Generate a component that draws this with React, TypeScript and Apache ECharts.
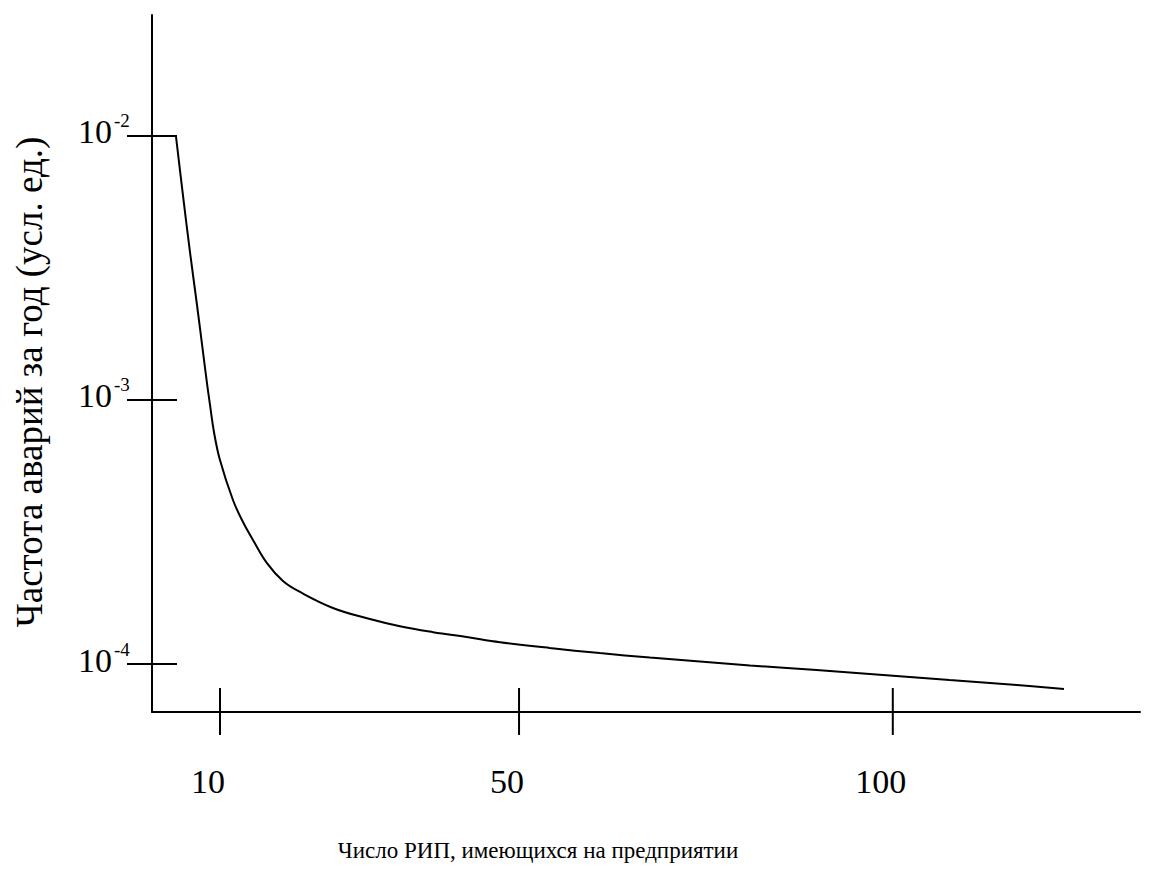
import React, { useEffect, useRef } from "react";
import * as echarts from "echarts";

// Curve: number of РИП (x) vs accident frequency per year (y, log scale)
const xValues = [4.1, 5.04, 5.98, 6.92, 7.72, 8.25, 8.66, 9.19, 9.99, 11.73, 13.07, 14.41, 16.28, 18.42, 20.7, 25.1, 29.66, 34.07, 38.5, 43.0, 47.45, 54.1, 60.8, 67.5, 74.2, 80.9, 89.8, 98.7, 107.6, 116.6, 122.9];
const yValues = [1.0e-2, 5.976e-3, 3.636e-3, 2.29e-3, 1.52e-3, 1.16e-3, 9.575e-4, 7.566e-4, 5.925e-4, 4.18e-4, 3.45e-4, 2.95e-4, 2.41e-4, 2.063e-4, 1.874e-4, 1.63e-4, 1.49e-4, 1.39e-4, 1.32e-4, 1.265e-4, 1.21e-4, 1.15e-4, 1.10e-4, 1.058e-4, 1.022e-4, 9.87e-5, 9.49e-5, 9.09e-5, 8.7e-5, 8.33e-5, 8.04e-5];

const xTicks = [10, 50, 100];
const xTickLabels = ["10", "50", "100"];
const yTicks = [1e-2, 1e-3, 1e-4];
const yTickExponents = ["-2", "-3", "-4"];

const xMin = 0.9;
const xMax = 133.07;
const yMin = Math.pow(10, -4.1818);
const yMax = Math.pow(10, -1.5417);

const yTitle = "Частота аварий за год (усл. ед.)";
const xTitle = "Число РИП, имеющихся на предприятии";

const FONT = "Liberation Serif, Times New Roman, serif";

export default function App() {
  const ref = useRef<HTMLDivElement>(null);

  useEffect(() => {
    document.body.style.margin = "0";
    const chart = echarts.init(ref.current!, null, { renderer: "svg" });
    chart.setOption({
      animation: false,
      backgroundColor: "#ffffff",
      textStyle: { fontFamily: FONT },
      grid: { left: 152, top: 15, right: 12, bottom: 170, containLabel: false },
      xAxis: {
        type: "value",
        min: xMin,
        max: xMax,
        axisLine: { show: true, lineStyle: { color: "#000", width: 2 } },
        axisTick: { show: false },
        axisLabel: { show: false },
        splitLine: { show: false },
      },
      yAxis: {
        type: "log",
        logBase: 10,
        min: yMin,
        max: yMax,
        axisLine: { show: true, lineStyle: { color: "#000", width: 2 } },
        axisTick: { show: false },
        axisLabel: { show: false },
        splitLine: { show: false },
        minorTick: { show: false },
      },
      series: [
        {
          type: "line",
          data: xValues.map((x, i) => [x, yValues[i]]),
          showSymbol: false,
          smooth: 0.4,
          lineStyle: { color: "#000", width: 2 },
        },
      ],
    });

    const origin = chart.convertToPixel({ gridIndex: 0 }, [xMin, yMin]) as number[];
    const axisX = origin[0];
    const axisY = origin[1];
    const graphics: any[] = [];

    const txt = (x: number, y: number, text: string, size: number, align: string, extra: any = {}) => ({
      type: "text",
      x,
      y,
      ...extra,
      style: {
        text,
        fontFamily: FONT,
        fontSize: size,
        fill: "#000",
        align,
        verticalAlign: "middle",
        legacy: false,
      },
    });

    yTicks.forEach((v, i) => {
      const py = chart.convertToPixel({ yAxisIndex: 0 }, v) as number;
      graphics.push({
        type: "line",
        shape: { x1: axisX - 25, y1: py, x2: axisX + 25, y2: py },
        style: { stroke: "#000", lineWidth: 2 },
      });
      graphics.push(txt(axisX - 74, py - 4, "10", 34, "left"));
      graphics.push(txt(axisX - 38, py - 15, yTickExponents[i], 19, "left"));
    });

    xTicks.forEach((v, i) => {
      const px = chart.convertToPixel({ xAxisIndex: 0 }, v) as number;
      graphics.push({
        type: "line",
        shape: { x1: px, y1: axisY - 24, x2: px, y2: axisY + 23 },
        style: { stroke: "#000", lineWidth: 2 },
      });
      graphics.push(txt(px - 12, axisY + 69, xTickLabels[i], 34, "center"));
    });

    graphics.push(txt(29, 382, yTitle, 37, "center", { rotation: Math.PI / 2 }));
    graphics.push(txt(538, 850, xTitle, 23, "center"));

    chart.setOption({ graphic: { elements: graphics } });

    return () => chart.dispose();
  }, []);

  return <div ref={ref} style={{ width: 1152, height: 882 }} />;
}
